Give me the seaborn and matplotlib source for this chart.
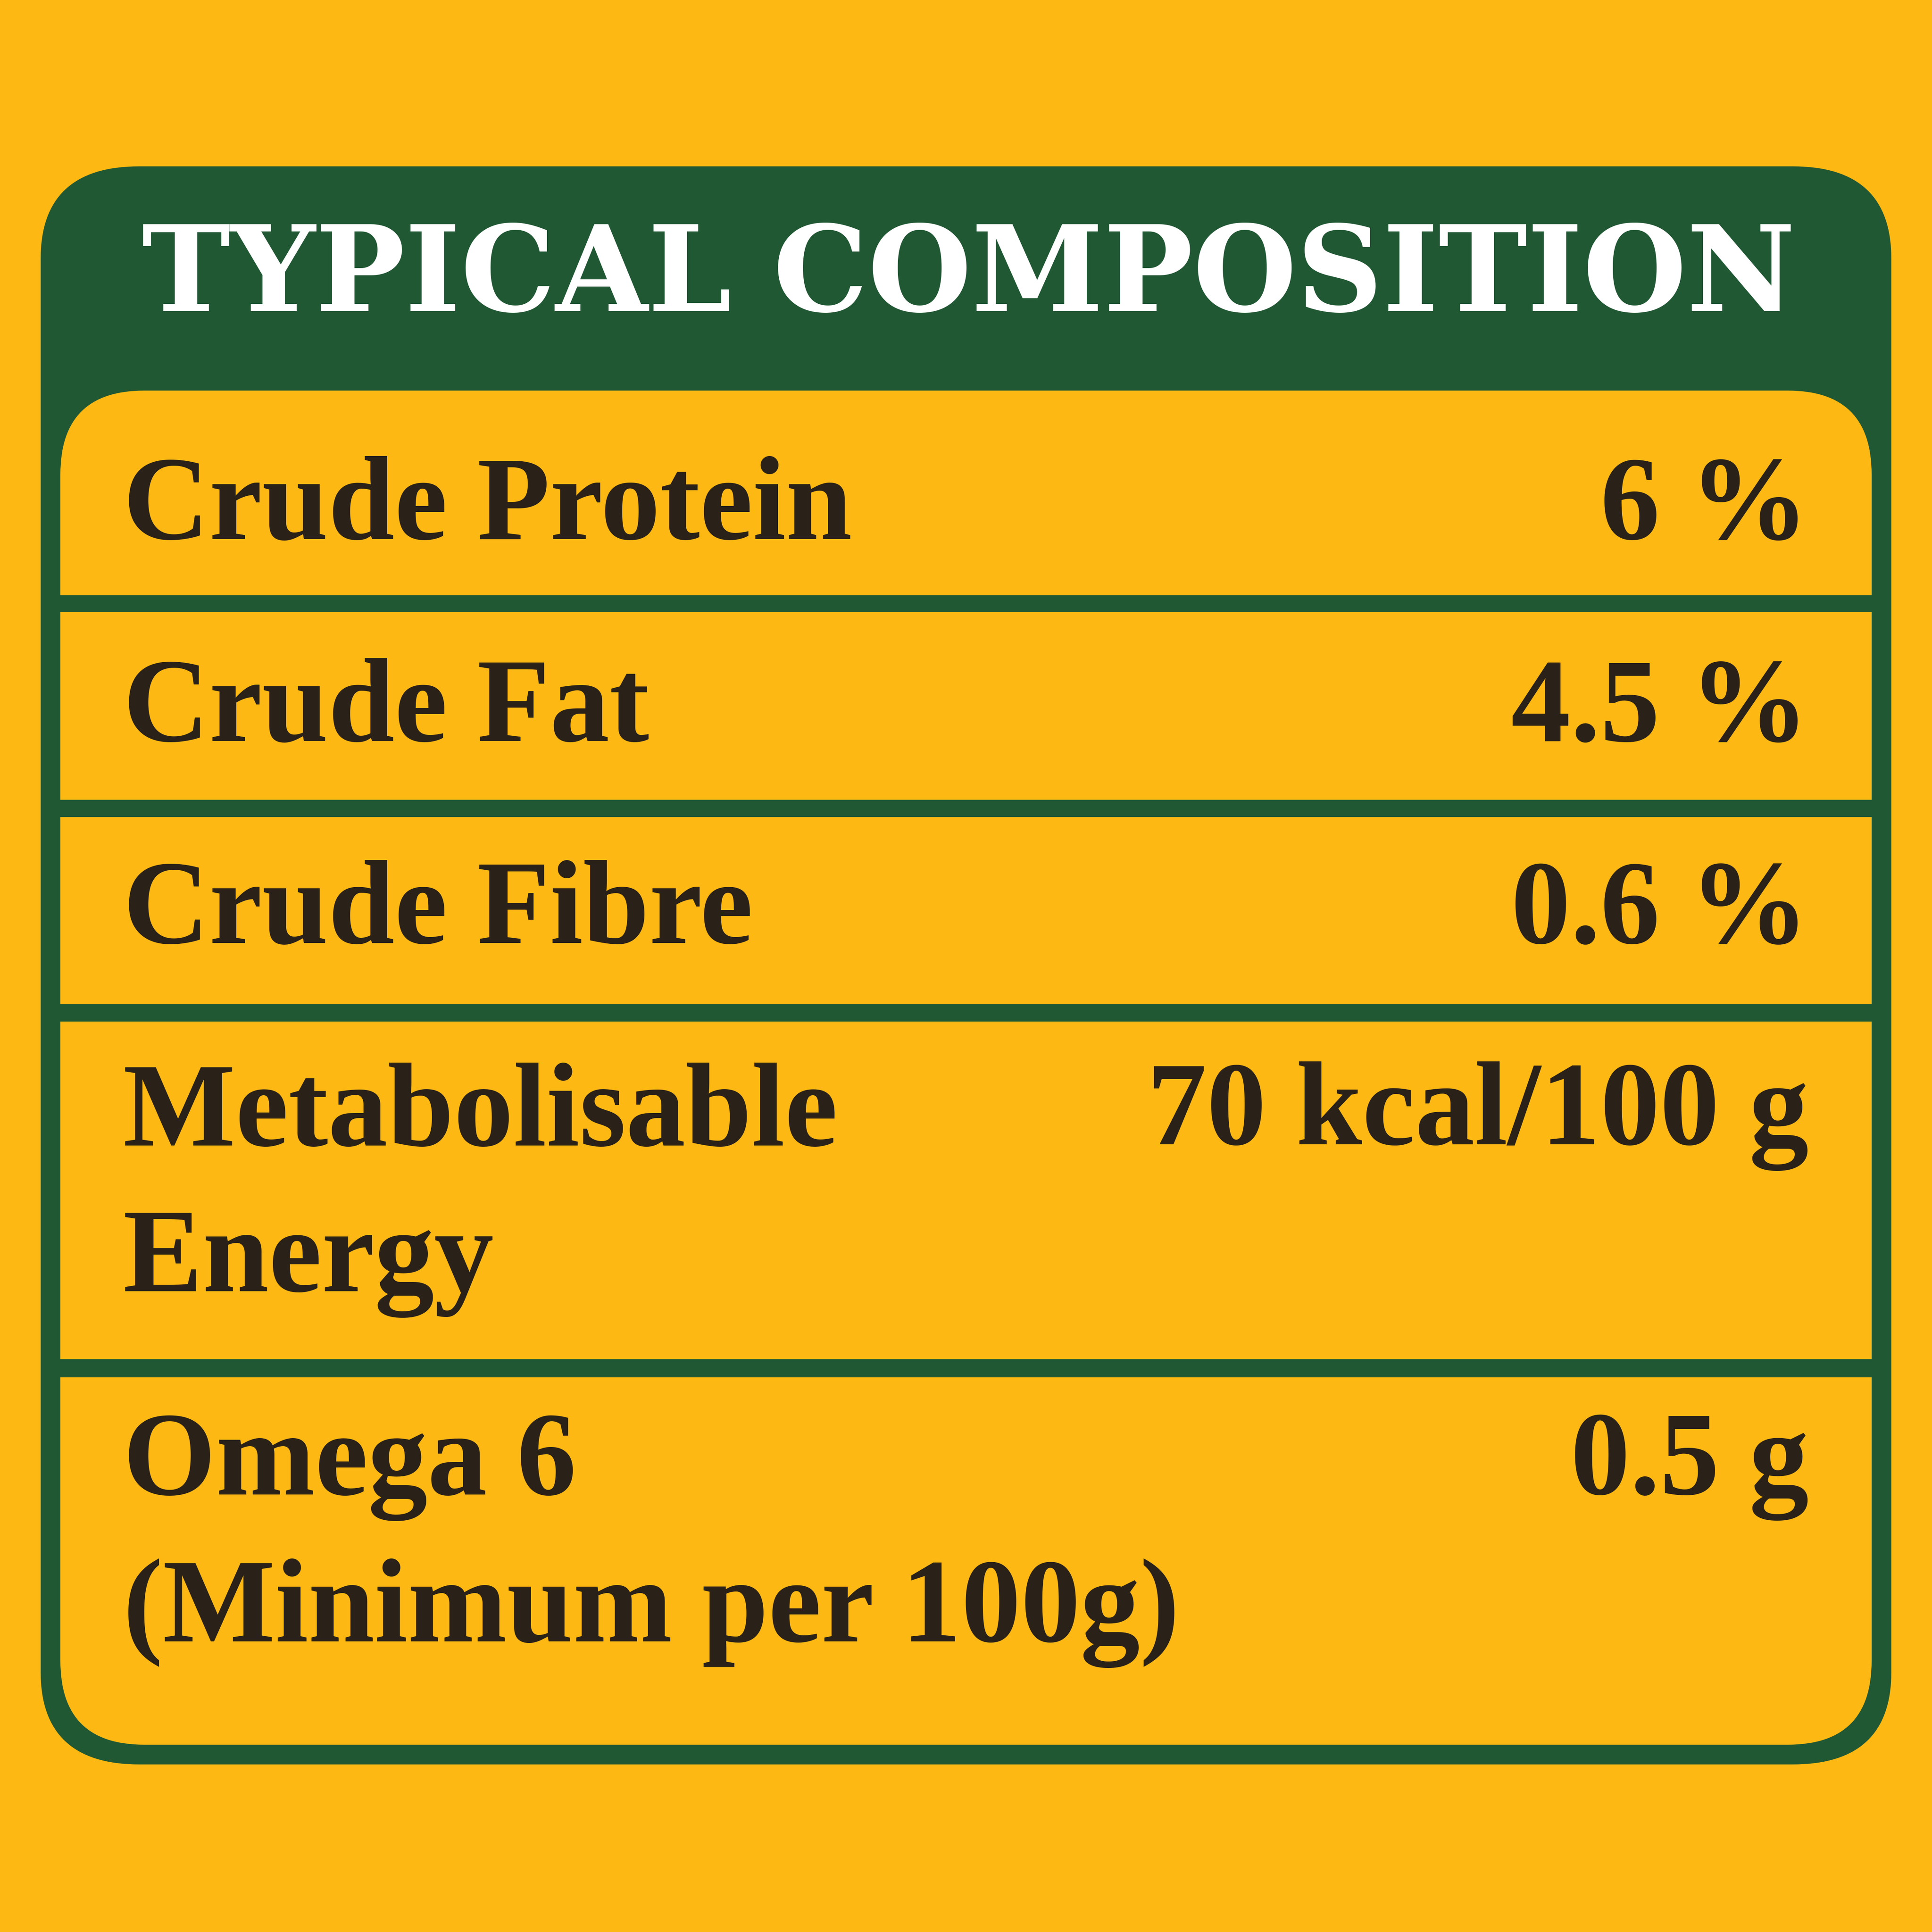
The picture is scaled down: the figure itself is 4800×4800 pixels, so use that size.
import matplotlib
matplotlib.use("Agg")
import matplotlib.pyplot as plt
import seaborn as sns
from matplotlib.patches import FancyBboxPatch, Rectangle

sns.set_theme(style="white")
plt.rcParams['font.family'] = ['Liberation Serif', 'DejaVu Serif']

title = "TYPICAL COMPOSITION"
labels = ["Crude Protein", "Crude Fat", "Crude Fibre", "Metabolisable\nEnergy", "Omega 6\n(Minimum per 100g)"]
values = ["6 %", "4.5 %", "0.6 %", "70 kcal/100 g", "0.5 g"]

BG = "#FDB813"
GREEN = "#215834"
INK = "#2a2118"

fig = plt.figure(figsize=(16, 16), dpi=300, facecolor=BG)
ax = fig.add_axes([0, 0, 1, 1])
ax.set_xlim(0, 1568); ax.set_ylim(1568, 0); ax.axis("off")
ax.set_facecolor(BG)

ax.add_patch(FancyBboxPatch((33, 135), 1502, 1297, boxstyle="round,pad=0,rounding_size=80",
                            mutation_aspect=75/80, fc=GREEN, ec="none"))
ax.add_patch(FancyBboxPatch((49, 317), 1470, 1099, boxstyle="round,pad=0,rounding_size=68",
                            fc=BG, ec="none"))

bands = [(483, 497), (649, 663), (815, 829), (1103, 1118)]
for y0, y1 in bands:
    ax.add_patch(Rectangle((49, y0), 1470, y1 - y0, fc=GREEN, ec="none"))

ax.text(786, 226, title, ha="center", va="center", color="white", fontsize=71,
        fontweight="bold", family=["DejaVu Serif"])

centers = [414, 578, 742, 966, 1250]
for lab, val, c in zip(labels, values, centers):
    nlines = lab.count("\n") + 1
    ax.text(100, c, lab, ha="left", va="center", color=INK, fontsize=71, fontweight="bold",
            linespacing=1.45)
    vy = c if nlines == 1 else c - 60
    ax.text(1468, vy, val, ha="right", va="center", color=INK, fontsize=71, fontweight="bold")

fig.savefig("out.png", dpi=300, facecolor=BG)
